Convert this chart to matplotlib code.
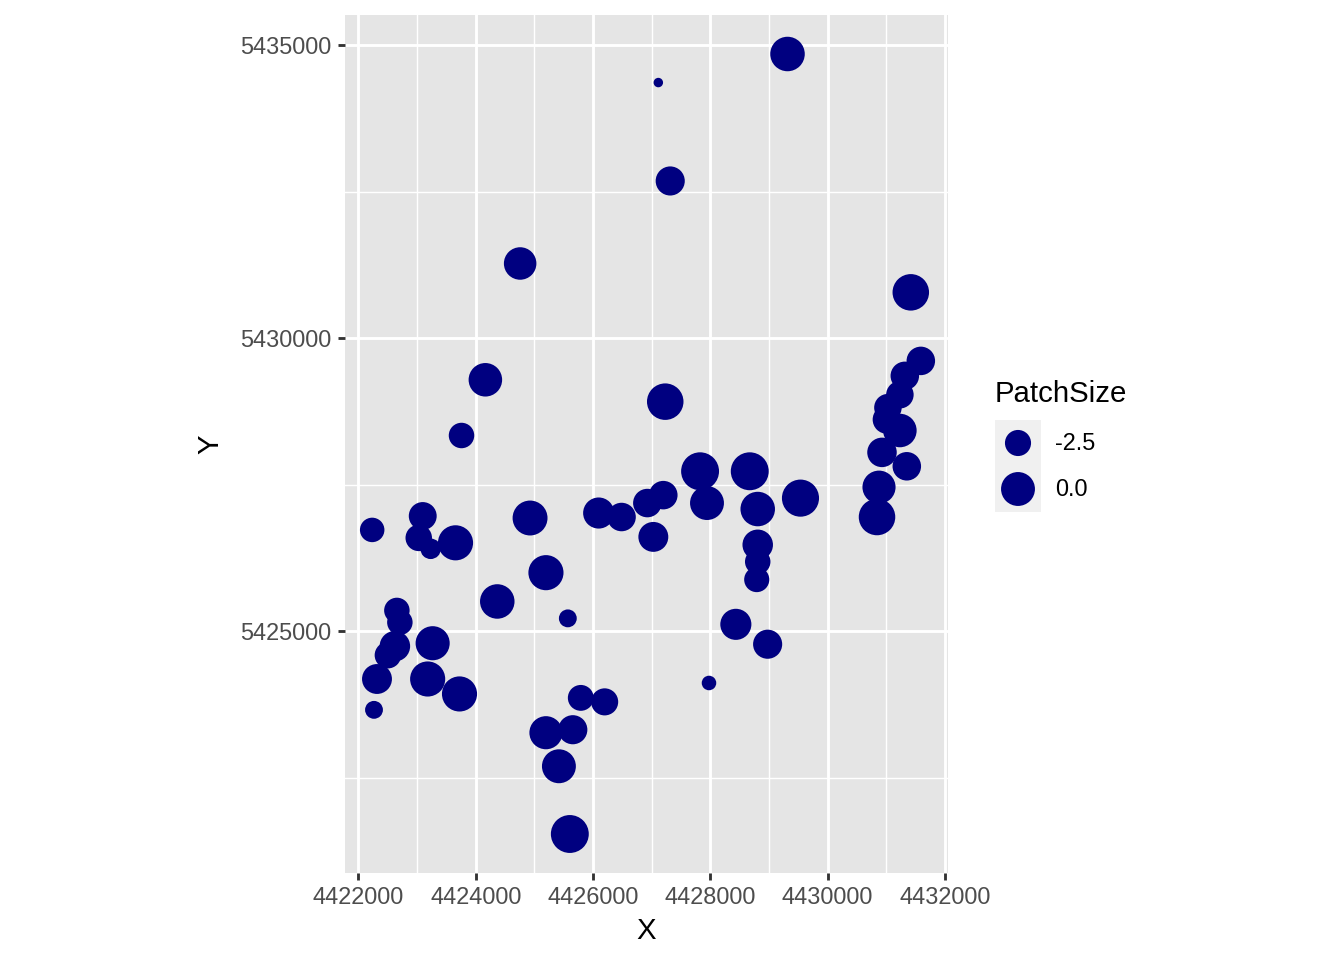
import numpy as np
import matplotlib
matplotlib.use("Agg")
import matplotlib.pyplot as plt
from matplotlib.ticker import MultipleLocator

plt.rcParams['font.family'] = ['Liberation Sans', 'DejaVu Sans']

# point coordinates
x_coord = [4429317, 4427114, 4427317, 4424758, 4431419, 4431590, 4431317, 4424165,
           4431233, 4427232, 4431029, 4431012, 4431233, 4423758, 4430928, 4431351,
           4427826, 4428673, 4430877, 4427199, 4426927, 4427944, 4428809, 4429538,
           4422235, 4423097, 4423029, 4423232, 4423656, 4424927, 4426097, 4426487,
           4427029, 4430843, 4428809, 4428809, 4428792, 4425198, 4424368, 4422656,
           4422707, 4425571, 4428436, 4422622, 4422503, 4423266, 4428978, 4422317,
           4423181, 4427978, 4423724, 4425792, 4426199, 4422266, 4425198, 4425656,
           4425419, 4425605]
y_coord = [5434845, 5434358, 5432680, 5431273, 5430781, 5429612, 5429357, 5429290,
           5429035, 5428917, 5428815, 5428612, 5428425, 5428340, 5428052, 5427815,
           5427730, 5427730, 5427459, 5427323, 5427188, 5427188, 5427086, 5427272,
           5426730, 5426967, 5426594, 5426408, 5426510, 5426933, 5427018, 5426950,
           5426611, 5426950, 5426476, 5426188, 5425883, 5426001, 5425510, 5425357,
           5425154, 5425222, 5425120, 5424747, 5424594, 5424798, 5424781, 5424188,
           5424188, 5424120, 5423933, 5423866, 5423798, 5423662, 5423272, 5423323,
           5422700, 5421545]
patch_size = [0.23, -4.66, -1.65, -0.52, 1.04, -1.83, -1.83, -0.15,
              -2.12, 1.04, -2.12, -1.83, -0.15, -2.66, -1.53, -1.83,
              1.65, 1.65, -0.30, -1.83, -1.83, 0.00, 0.23, 1.30,
              -2.90, -2.01, -2.40, -3.71, 0.47, 0.39, -1.01, -1.83,
              -1.40, 1.04, -1.21, -2.66, -2.75, 0.47, 0.23, -2.66,
              -2.66, -4.11, -1.01, -1.21, -2.40, 0.07, -1.65, -1.40,
              0.47, -4.46, 0.47, -2.56, -2.24, -4.11, -0.30, -1.65,
              0.00, 1.65]

legend_breaks = [-2.5, 0.0]
legend_labels = ['-2.5', '0.0']
x_ticks = [4422000, 4424000, 4426000, 4428000, 4430000, 4432000]
y_ticks = [5425000, 5430000, 5435000]

navy = '#000080'
vmin, vmax = min(patch_size), max(patch_size)


def marker_area(v):
    # ggplot-like area scale: size 1..6, diameter in points
    frac = (np.asarray(v, dtype=float) - vmin) / (vmax - vmin)
    size = 1 + 5 * np.sqrt(np.clip(frac, 0, 1))
    diam = 0.75 * (size * 72.27 / 25.4 + 0.5 * 96 / 25.4 / 2)
    return diam ** 2


fig = plt.figure(figsize=(7, 5), dpi=192)
ax = fig.add_axes([343 / 1344, 87 / 960, 607 / 1344, 858 / 960])
ax.set_facecolor('#E5E5E5')

ax.scatter(x_coord, y_coord, s=marker_area(patch_size), color=navy,
           edgecolors=navy, linewidths=0.7, zorder=3)

# ggplot-style 5% expansion
xr = max(x_coord) - min(x_coord)
yr = max(y_coord) - min(y_coord)
ax.set_xlim(min(x_coord) - 0.05 * xr, max(x_coord) + 0.05 * xr)
ax.set_ylim(min(y_coord) - 0.05 * yr, max(y_coord) + 0.05 * yr)
ax.set_aspect('equal', adjustable='box', anchor='C')

ax.set_xticks(x_ticks)
ax.set_yticks(y_ticks)
ax.set_xticklabels([str(t) for t in x_ticks])
ax.set_yticklabels([str(t) for t in y_ticks])
ax.xaxis.set_minor_locator(MultipleLocator(1000))
ax.yaxis.set_minor_locator(MultipleLocator(2500))
ax.grid(which='major', color='white', linewidth=1.07)
ax.grid(which='minor', color='white', linewidth=0.53)
ax.set_axisbelow(True)
for s in ax.spines.values():
    s.set_visible(False)
ax.tick_params(which='major', length=2.75, width=1.07, color='#333333',
               labelsize=8.8, labelcolor='#4D4D4D', pad=2.2)
ax.tick_params(which='minor', length=0)

ax.set_xlabel('X', fontsize=11, color='black', labelpad=3)
ax.set_ylabel('Y', fontsize=11, color='black', labelpad=6)

# legend drawn as its own small panel
fig.text(995 / 1344, 1 - 394 / 960, 'PatchSize', fontsize=11,
         ha='left', va='center')
lax = fig.add_axes([995 / 1344, 1 - 512 / 960, 46 / 1344, 92 / 960])
lax.set_facecolor('#F0F0F0')
lax.set_xlim(0, 1)
lax.set_ylim(0, 2)
for s in lax.spines.values():
    s.set_visible(False)
lax.set_xticks([])
lax.set_yticks([])
key_y = [1.5, 0.5]
lax.scatter([0.5] * len(legend_breaks), key_y, s=marker_area(legend_breaks),
            color=navy, edgecolors=navy, linewidths=0.7)
for ky, lab in zip(key_y, legend_labels):
    fig.text(1055 / 1344, 1 - (420 + (2 - ky) * 46) / 960, lab, fontsize=8.8,
             ha='left', va='center')

fig.savefig('out.png', dpi=192)
